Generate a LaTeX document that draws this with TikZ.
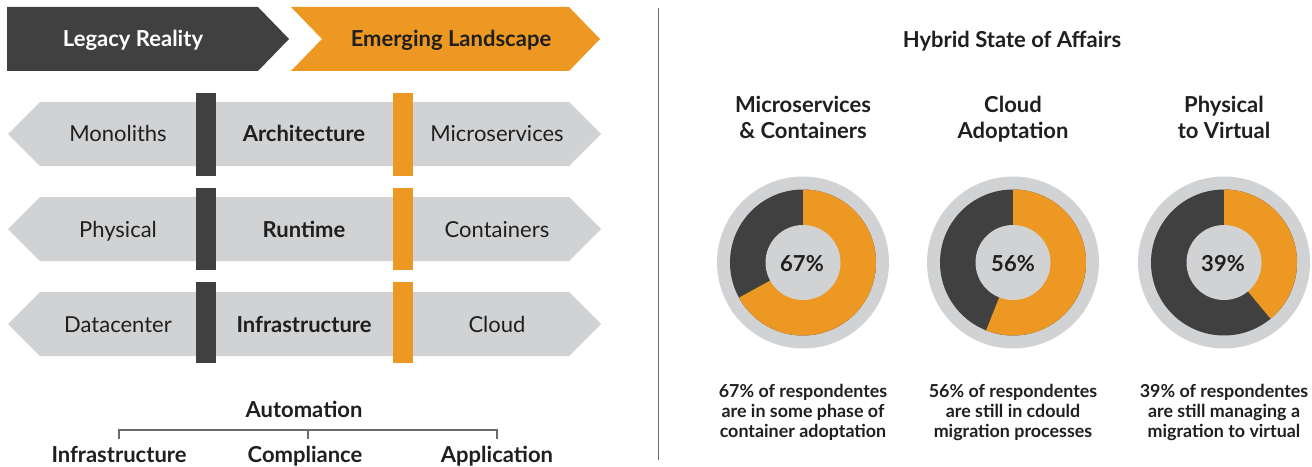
\documentclass[tikz,border=0pt]{standalone}
\usepackage{fontspec}
\setmainfont{Lato}
\usepackage{tikz}
\definecolor{dk}{HTML}{404040}
\definecolor{og}{HTML}{EC9823}
\definecolor{gy}{HTML}{D1D2D4}
\definecolor{ln}{HTML}{6B6B6B}
\tikzset{
    TX/.style ={font=\fontsize{16.5}{19.5}\selectfont, text=black!88, inner sep=0pt,
                text height=14.8pt, text depth=3pt},
    TB/.style ={TX, font=\fontsize{16.5}{19.5}\selectfont\bfseries},
    TT/.style ={font=\fontsize{16.5}{19.5}\selectfont\bfseries, text=black!88, inner sep=0pt, align=center},
    CP/.style ={font=\fontsize{13.4}{15}\selectfont\bfseries, text=black!88, inner sep=0pt, align=center},
    PC/.style ={TX, font=\fontsize{16.5}{19.5}\selectfont\bfseries},
    BR/.style ={draw=ln, line width=0.8pt},
    BAR/.style={fill=#1}
}
\begin{document}
\begin{tikzpicture}[x=0.75pt, y=-0.75pt]
        \useasboundingbox (0,0) rectangle (1312,467);
        \fill[dk] (7,7) -- (258,7) -- (289,39) -- (258,71) -- (7,71) -- cycle;
        \fill[og] (291,7) -- (569,7) -- (600,39) -- (569,71) -- (291,71) -- (322,39) -- cycle;
        \node[TB, text=white] (lg) at (133,39) {Legacy Reality};
        \node[TB] (em) at (451,39) {Emerging Landscape};
        \fill[gy] (8,134) -- (40,102) -- (569,102) -- (601,134) -- (569,166) -- (40,166) -- cycle;
        \fill[gy] (8,229) -- (40,197) -- (569,197) -- (601,229) -- (569,261) -- (40,261) -- cycle;
        \fill[gy] (8,324) -- (40,292) -- (569,292) -- (601,324) -- (569,356) -- (40,356) -- cycle;
        \fill[BAR=dk] (196,93) rectangle (216,176);
        \fill[BAR=og] (393,93) rectangle (413,176);
        \fill[BAR=dk] (196,188) rectangle (216,270);
        \fill[BAR=og] (393,188) rectangle (413,270);
        \fill[BAR=dk] (196,282) rectangle (216,363);
        \fill[BAR=og] (393,282) rectangle (413,363);
        \node[TX] (l1) at (118,134) {Monoliths};
        \node[TB] (c1) at (304,134) {Architecture};
        \node[TX] (r1) at (497,134) {Microservices};
        \node[TX] (l2) at (118,230) {Physical};
        \node[TB] (c2) at (304,230) {Runtime};
        \node[TX] (r2) at (497,230) {Containers};
        \node[TX] (l3) at (118,325) {Datacenter};
        \node[TB] (c3) at (304,325) {Infrastructure};
        \node[TX] (r3) at (497,325) {Cloud};
        \node[TB] (aut) at (304,410) {Automation};
        \node[TB] (a1) at (119,455) {Infrastructure};
        \node[TB] (a2) at (305,455) {Compliance};
        \node[TB] (a3) at (497,455) {Application};
        \coordinate (bl) at (119,430);
        \coordinate (bm) at (308,430);
        \coordinate (br) at (497,430);
        \draw[BR] (bl) ++(0,9) -- (bl) -- (br) -- ++(0,9);
        \draw[BR] (bm) -- ++(0,9);
        \draw[draw=ln, line width=0.6pt] (658,8) -- (658,460);
        \node[TB] (hy) at (1012,40) {Hybrid State of Affairs};
        \node[TT] (t1) at (803,120) {Microservices\strut\\\& Containers\strut};
        \node[TT] (t2) at (1013,120) {Cloud\strut\\Adoptation\strut};
        \node[TT] (t3) at (1224,120) {Physical\strut\\to Virtual\strut};
        \begin{scope}[shift={(803,262.5)}, yscale=-1]
            \fill[gy] (0,0) circle (86);
            \fill[dk] (0,0) circle (73);
            \fill[og] (0,0) -- (90:73) arc[start angle=90, end angle=-151.2, radius=73] -- cycle;
            \fill[gy] (0,0) circle (37.5);
        \end{scope}
        \begin{scope}[shift={(1013,262.5)}, yscale=-1]
            \fill[gy] (0,0) circle (86);
            \fill[dk] (0,0) circle (73);
            \fill[og] (0,0) -- (90:73) arc[start angle=90, end angle=-111.6, radius=73] -- cycle;
            \fill[gy] (0,0) circle (37.5);
        \end{scope}
        \begin{scope}[shift={(1224,262.5)}, yscale=-1]
            \fill[gy] (0,0) circle (86);
            \fill[dk] (0,0) circle (73);
            \fill[og] (0,0) -- (90:73) arc[start angle=90, end angle=-50.4, radius=73] -- cycle;
            \fill[gy] (0,0) circle (37.5);
        \end{scope}
        \node[PC] (p1) at (802,264) {67\%};
        \node[PC] (p2) at (1013,264) {56\%};
        \node[PC] (p3) at (1223,264) {39\%};
        \node[CP] (s1) at (803,413) {67\% of respondentes\strut\\are in some phase of\strut\\container adoptation\strut};
        \node[CP] (s2) at (1013,413) {56\% of respondentes\strut\\are still in cdould\strut\\migration processes\strut};
        \node[CP] (s3) at (1224,413) {39\% of respondentes\strut\\are still managing a\strut\\migration to virtual\strut};
    \end{tikzpicture}
\end{document}
